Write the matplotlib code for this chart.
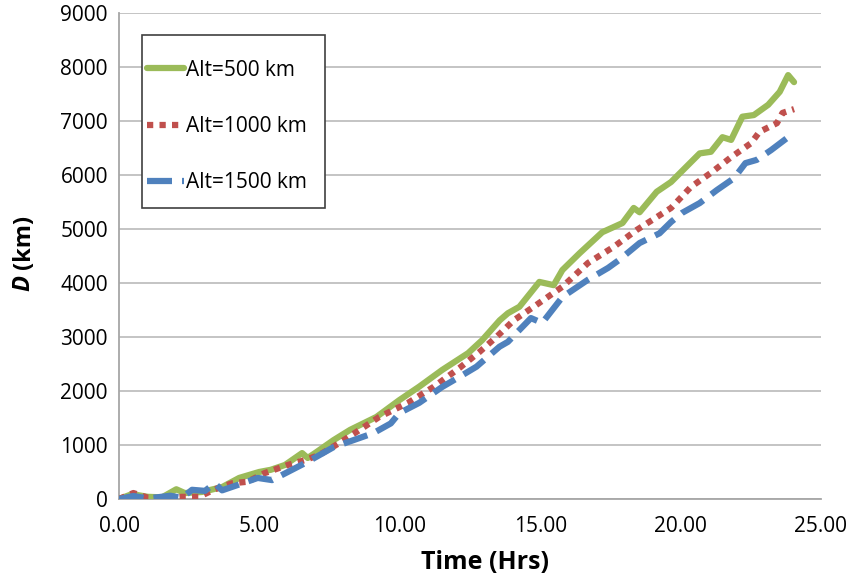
import matplotlib
matplotlib.use("Agg")
import matplotlib.pyplot as plt
from matplotlib.patches import Rectangle

# data (time in hours, D in km)
t_500 = [0, 0.46, 1.02, 1.53, 2.04, 2.34, 2.95, 3.67, 4.28, 4.99, 5.4, 5.91, 6.52, 6.72,
         6.98, 7.64, 8.23, 9.17, 9.98, 10.69, 11.51, 12.43, 12.93, 13.56, 13.85, 14.26,
         14.97, 15.48, 15.79, 16.4, 17.21, 17.93, 18.33, 18.54, 19.15, 19.66, 20.68,
         21.08, 21.49, 21.8, 22.2, 22.61, 23.12, 23.53, 23.83, 24.04]
d_500 = [0, 90, 40, 30, 180, 110, 130, 220, 390, 500, 540, 630, 850, 760,
         850, 1090, 1280, 1520, 1830, 2080, 2390, 2700, 2940, 3310, 3440, 3560,
         4020, 3960, 4240, 4550, 4940, 5110, 5390, 5310, 5690, 5870, 6400,
         6430, 6700, 6650, 7080, 7110, 7300, 7540, 7850, 7720]

t_1000 = [0, 0.51, 1.02, 1.63, 2.24, 2.85, 3.41, 4.02, 4.58, 5.19, 6.01, 6.62, 7.13,
          7.84, 8.66, 9.27, 10.29, 11.2, 12.12, 12.83, 13.44, 14.06, 14.77, 15.79,
          16.7, 17.62, 18.43, 19.15, 19.66, 20.37, 21.08, 21.8, 22.51, 22.81, 23.43,
          23.63, 24.04]
d_1000 = [0, 110, 25, 10, 40, 40, 180, 290, 320, 480, 630, 720, 815,
          1035, 1310, 1520, 1780, 2075, 2425, 2720, 3000, 3310, 3560, 3930,
          4370, 4670, 4980, 5220, 5390, 5780, 6040, 6330, 6590, 6800, 6960,
          7150, 7220]

t_1500 = [0, 0.51, 1.02, 1.83, 2.24, 2.6, 3.06, 3.41, 3.67, 4.23, 4.94, 5.45, 6.16,
          6.72, 7.64, 8.35, 9.06, 9.68, 9.98, 10.69, 11.51, 12.12, 12.73, 13.55,
          13.85, 14.67, 15.07, 15.79, 16.7, 17.42, 17.82, 18.54, 19.25, 19.66,
          20.06, 20.68, 21.29, 21.9, 22.31, 22.71, 23.22, 23.83, 24.04]
d_1500 = [0, 55, 10, 60, 20, 170, 150, 290, 160, 260, 390, 350, 540,
          690, 960, 1090, 1220, 1400, 1590, 1780, 2075, 2260, 2450, 2820,
          2910, 3350, 3260, 3740, 4060, 4280, 4430, 4740, 4920, 5130,
          5300, 5480, 5720, 5940, 6220, 6280, 6460, 6700, 6740]

labels = ["Alt=500 km", "Alt=1000 km", "Alt=1500 km"]
x_ticks = [0, 5, 10, 15, 20, 25]
y_ticks = list(range(0, 9001, 1000))

plt.rcParams["font.family"] = ["Open Sans", "DejaVu Sans"]

fig = plt.figure(figsize=(8.52, 5.78), dpi=100)
ax = fig.add_axes([0.1397, 0.1367, 0.8239, 0.8408])

lw = 4.5
ax.plot(t_500, d_500, color="#9BBB59", lw=lw, solid_capstyle="round",
        solid_joinstyle="round", label=labels[0], zorder=3)
ax.plot(t_1000, d_1000, color="#C0504D", lw=lw, linestyle=(0, (1, 1)),
        dash_capstyle="butt", label=labels[1], zorder=3)
ax.plot(t_1500, d_1500, color="#4F81BD", lw=lw, linestyle=(0, (4, 1.6)),
        dash_capstyle="butt", label=labels[2], zorder=3)

ax.set_xlim(0, 25)
ax.set_ylim(0, 9000)
ax.set_xticks(x_ticks)
ax.set_xticklabels(["%.2f" % v for v in x_ticks])
ax.set_yticks(y_ticks)
ax.tick_params(axis="both", length=0, labelsize=15, pad=8)
ax.tick_params(axis="x", pad=12)

ax.grid(axis="y", color="#BFBFBF", lw=1.3)
ax.set_axisbelow(True)
for s in ["top", "right"]:
    ax.spines[s].set_visible(False)
for s in ["left", "bottom"]:
    ax.spines[s].set_color("#A6A6A6")
    ax.spines[s].set_linewidth(1.3)

ax.set_xlabel("Time (Hrs)", fontsize=18, fontweight="bold", va="center")
ax.xaxis.set_label_coords(0.521, -0.13)
# y label with italic D
fig.text(0.028, 0.535, "(km)", rotation=90, fontsize=17, fontweight="bold",
         ha="center", va="bottom")
fig.text(0.028, 0.535, "D ", rotation=90, fontsize=17, fontweight="bold",
         style="italic", ha="center", va="top")

# legend box drawn by hand, entries placed inside
ax.add_patch(Rectangle((0.033, 0.599), 0.261, 0.356, transform=ax.transAxes,
                       facecolor="white", edgecolor="#404040", lw=1.2, zorder=4))
leg = ax.legend(loc="upper left", bbox_to_anchor=(0.040, 0.904), fontsize=15,
                frameon=False, handlelength=1.75, handletextpad=0.1,
                labelspacing=1.7, borderpad=0, borderaxespad=0)
leg.set_zorder(5)

fig.savefig("out.png", dpi=100)
